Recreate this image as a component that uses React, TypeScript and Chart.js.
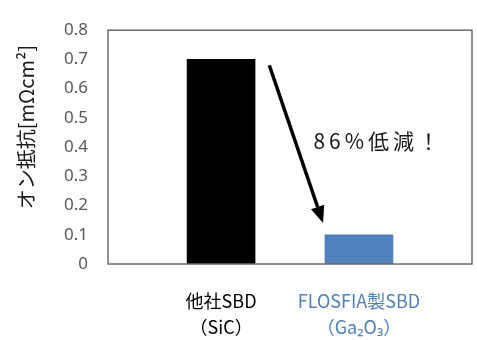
import React, { useEffect, useRef } from "react";
import { Chart, registerables } from "chart.js";

Chart.register(...registerables);

const categories: string[][] = [["他社SBD", "（SiC）"], ["FLOSFIA製SBD", "（Ga₂O₃）"]];
const values: number[] = [0.7, 0.1];
const barColors: string[] = ["#000000", "#4F81BD"];
const labelColors: string[] = ["#000000", "#4F81BD"];
const yTicks: number[] = [0, 0.1, 0.2, 0.3, 0.4, 0.5, 0.6, 0.7, 0.8];
const yTitle = "オン抵抗[mΩcm²]";
const annotationText = "86%低減！";

const JP = '"Noto Sans CJK JP", "Noto Sans", sans-serif';

const decorPlugin = {
  id: "decor",
  afterDraw(chart: any) {
    const { ctx, chartArea, scales } = chart;
    const x = scales.x;
    const y = scales.y;
    ctx.save();
    // box
    ctx.strokeStyle = "#6b6b6b";
    ctx.lineWidth = 1.5;
    ctx.strokeRect(chartArea.left, chartArea.top, chartArea.right - chartArea.left, chartArea.bottom - chartArea.top);

    // arrow
    const x1 = x.getPixelForValue(0.35);
    const y1 = y.getPixelForValue(0.68);
    const x2 = x.getPixelForValue(0.74);
    const y2 = y.getPixelForValue(0.14);
    const ang = Math.atan2(y2 - y1, x2 - x1);
    const headLen = 17;
    const headW = 7;
    const bx = x2 - headLen * Math.cos(ang);
    const by = y2 - headLen * Math.sin(ang);
    ctx.strokeStyle = "#000";
    ctx.lineWidth = 3.5;
    ctx.beginPath();
    ctx.moveTo(x1, y1);
    ctx.lineTo(bx, by);
    ctx.stroke();
    ctx.fillStyle = "#000";
    ctx.beginPath();
    ctx.moveTo(x2, y2);
    ctx.lineTo(bx + headW * Math.sin(ang), by - headW * Math.cos(ang));
    ctx.lineTo(bx - headW * Math.sin(ang), by + headW * Math.cos(ang));
    ctx.closePath();
    ctx.fill();

    // annotation text
    ctx.font = `21px ${JP}`;
    (ctx as any).letterSpacing = "4px";
    ctx.fillStyle = "#1a1a1a";
    ctx.textAlign = "left";
    ctx.textBaseline = "middle";
    ctx.fillText(annotationText, x.getPixelForValue(0.67), y.getPixelForValue(0.42));
    (ctx as any).letterSpacing = "0px";

    // y title
    ctx.translate(26, (chartArea.top + chartArea.bottom) / 2 - 20);
    ctx.rotate(-Math.PI / 2);
    ctx.font = `20px ${JP}`;
    ctx.fillStyle = "#1a1a1a";
    ctx.textAlign = "center";
    ctx.textBaseline = "middle";
    ctx.fillText(yTitle, 0, 0);
    ctx.restore();
  },
};

export default function App() {
  const ref = useRef<HTMLCanvasElement>(null);
  useEffect(() => {
    if (!ref.current) return;
    const chart = new Chart(ref.current, {
      type: "bar",
      data: {
        datasets: [
          {
            data: values.map((v, i) => ({ x: i, y: v })),
            backgroundColor: barColors,
            barThickness: 68,
            borderWidth: 0,
          },
        ],
      },
      options: {
        responsive: false,
        animation: false,
        layout: { padding: { top: 15, right: 5, left: 0, bottom: 0 } },
        plugins: { legend: { display: false }, tooltip: { enabled: false }, title: { display: false } },
        scales: {
          x: {
            type: "linear",
            offset: false,
            min: -0.82,
            max: 1.82,
            grid: { display: false, drawTicks: false },
            border: { display: false },
            afterBuildTicks: (scale: any) => {
              scale.ticks = categories.map((_, i) => ({ value: i }));
            },
            afterFit: (scale: any) => {
              scale.height = 76;
            },
            ticks: {
              autoSkip: false,
              maxRotation: 0,
              minRotation: 0,
              padding: 24,
              font: { family: JP, size: 18, lineHeight: 1.45 },
              color: (c: any) => labelColors[c.index] ?? "#000",
              callback: (v: any) => categories[Number(v)] ?? "",
            },
          },
          y: {
            min: 0,
            max: 0.8,
            grid: { display: false, drawTicks: false },
            border: { display: false },
            afterBuildTicks: (scale: any) => {
              scale.ticks = yTicks.map((v) => ({ value: v }));
            },
            afterFit: (scale: any) => {
              scale.width = 108;
            },
            ticks: {
              padding: 20,
              color: "#595959",
              font: { family: '"Noto Sans", sans-serif', size: 17 },
              callback: (v: any) => (Number(v) === 0 ? "0" : Number(v).toFixed(1)),
            },
          },
        },
      },
      plugins: [decorPlugin],
    });
    return () => chart.destroy();
  }, []);
  return (
    <canvas
      ref={ref}
      width={477}
      height={340}
      style={{ position: "absolute", left: 0, top: 0, display: "block" }}
    />
  );
}
